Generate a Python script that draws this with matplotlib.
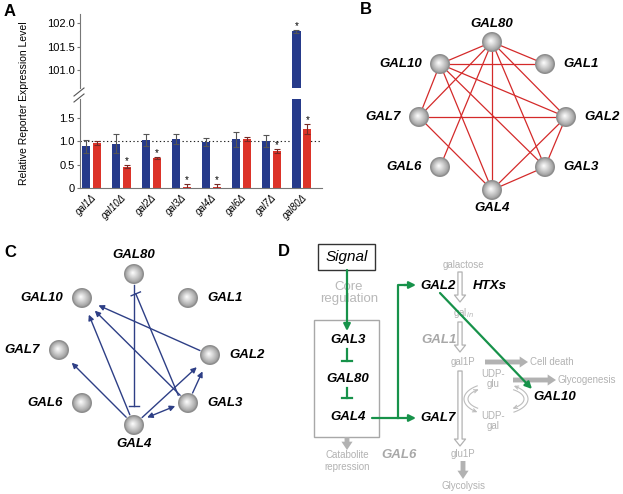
import numpy as np
import matplotlib
matplotlib.use('Agg')
import matplotlib.pyplot as plt
from matplotlib.patches import Circle, FancyArrowPatch, Rectangle

plt.rcParams['font.family'] = ['Liberation Sans', 'DejaVu Sans']

# ---- panel A data
strains = ['gal1', 'gal10', 'gal2', 'gal3', 'gal4', 'gal6', 'gal7', 'gal80']
wt_mean = [0.89, 0.95, 1.03, 1.05, 0.98, 1.04, 1.01, 101.83]
wt_err = [0.14, 0.20, 0.13, 0.11, 0.09, 0.16, 0.13, 0.03]
mut_mean = [0.96, 0.46, 0.64, 0.02, 0.02, 1.04, 0.79, 1.26]
mut_err = [0.04, 0.04, 0.02, 0.08, 0.08, 0.04, 0.04, 0.10]
wt_sig = [False, False, False, False, False, False, False, True]
mut_sig = [False, True, True, True, True, False, True, True]

# ---- panel B / C networks
genes = ['GAL80', 'GAL10', 'GAL1', 'GAL7', 'GAL2', 'GAL6', 'GAL3', 'GAL4']
corr_edges = [('GAL80', 'GAL10'), ('GAL80', 'GAL1'), ('GAL80', 'GAL7'), ('GAL80', 'GAL6'),
              ('GAL80', 'GAL4'), ('GAL80', 'GAL3'), ('GAL80', 'GAL2'),
              ('GAL10', 'GAL1'), ('GAL10', 'GAL7'), ('GAL10', 'GAL2'), ('GAL10', 'GAL3'),
              ('GAL10', 'GAL4'), ('GAL7', 'GAL2'), ('GAL7', 'GAL4'),
              ('GAL2', 'GAL3'), ('GAL2', 'GAL4'), ('GAL3', 'GAL4')]
act_edges = [('GAL2', 'GAL10'), ('GAL3', 'GAL10'), ('GAL4', 'GAL10'),
             ('GAL4', 'GAL7'), ('GAL4', 'GAL2'), ('GAL3', 'GAL2')]
inh_edges = [('GAL80', 'GAL4'), ('GAL3', 'GAL80')]
mutual_edges = [('GAL4', 'GAL3')]

# layout (pixel positions)
pos_b = {'GAL80': (492, 42), 'GAL10': (440, 64), 'GAL1': (545, 64), 'GAL7': (419, 117),
         'GAL2': (566, 117), 'GAL6': (440, 167), 'GAL3': (545, 167), 'GAL4': (492, 190)}
pos_c = {'GAL80': (134, 274), 'GAL10': (82, 298), 'GAL1': (188, 298), 'GAL7': (59, 350),
         'GAL2': (210, 355), 'GAL6': (82, 403), 'GAL3': (188, 403), 'GAL4': (134, 425)}
side = {'GAL80': 'top', 'GAL10': 'left', 'GAL1': 'right', 'GAL7': 'left',
        'GAL2': 'right', 'GAL6': 'left', 'GAL3': 'right', 'GAL4': 'bottom'}

BLUE = '#263a8a'
RED = '#dc3329'
NAVY = '#2e3f86'
GREEN = '#17924a'
GREY = '#b2b2b2'

fig = plt.figure(figsize=(6.23, 4.94), dpi=100)
W, H = 623., 494.


def px_axes(l, t, r, b):
    return fig.add_axes([l / W, 1 - b / H, (r - l) / W, (b - t) / H])


# ================= panel A =================
x = np.arange(len(strains))
off, bw = 0.18, 0.27
ax_lo = px_axes(80, 98.7, 322, 188.3)
ax_hi = px_axes(80, 14, 322, 88)
ax_lo.set_ylim(0, 1.9)
ax_hi.set_ylim(100.62, 102.2)
for ax in (ax_lo, ax_hi):
    lo, hi = ax.get_ylim()
    ax.bar(x - off, wt_mean, bw, color=BLUE, zorder=2)
    ax.bar(x + off, mut_mean, bw, color=RED, zorder=2)
    ax.errorbar(x - off, wt_mean, yerr=wt_err, fmt='none', ecolor='#555555',
                elinewidth=0.8, capsize=2, capthick=0.8, zorder=3)
    ax.errorbar(x + off, mut_mean, yerr=mut_err, fmt='none', ecolor='#7a2a25',
                elinewidth=0.8, capsize=2, capthick=0.8, zorder=3)
    for i in range(len(strains)):
        for sig, m, e, dx in ((wt_sig[i], wt_mean[i], wt_err[i], -off),
                              (mut_sig[i], mut_mean[i], mut_err[i], off)):
            ys = m + e + 0.02
            if sig and lo < ys < hi - 0.1:
                ax.text(x[i] + dx, ys, '*', ha='center', va='baseline', fontsize=7)
    ax.set_xlim(-0.38, 7.67)
    for s in ('top', 'right'):
        ax.spines[s].set_visible(False)
    ax.spines['left'].set_color('#777777')
    ax.spines['bottom'].set_color('#777777')
    ax.tick_params(axis='y', length=2, labelsize=8, color='#777777', pad=2)
    ax.set_facecolor('none')

ax_lo.set_yticks([0, 0.5, 1.0, 1.5])
ax_lo.set_yticklabels(['0', '0.5', '1.0', '1.5'])
ax_lo.axhline(1.0, color='#222222', lw=0.8, ls=(0, (1.2, 2.2)), zorder=1)
ax_lo.set_xticks(x)
ax_lo.set_xticklabels([s + '\u0394' for s in strains], rotation=45, ha='right',
                      va='top', rotation_mode='anchor', fontsize=7, style='italic')
ax_lo.tick_params(axis='x', length=0, pad=3)

ax_hi.set_yticks([101.0, 101.5, 102.0])
ax_hi.set_yticklabels(['101.0', '101.5', '102.0'])
ax_hi.spines['bottom'].set_visible(False)
ax_hi.set_xticks([])

fig.text(24 / W, 1 - 103 / H, 'Relative Reporter Expression Level', rotation=90,
         ha='center', va='center', fontsize=7.5)

# ================= overlay for B, C, D =================
ov = fig.add_axes([0, 0, 1, 1])
ov.set_xlim(0, W)
ov.set_ylim(H, 0)
ov.axis('off')

# axis break marks
for dy in (-3, 3):
    ov.plot([74, 84], [95 + dy + 4, 95 + dy - 4], color='#555555', lw=0.8)

# panel letters
for letter, (lx, ly) in {'A': (10, 12), 'B': (366, 10), 'C': (10, 252), 'D': (284, 251)}.items():
    ov.text(lx, ly, letter, fontsize=12, fontweight='bold', ha='center', va='center')


def sphere(cx, cy, r=10):
    ov.add_patch(Circle((cx, cy), r, color='#8e8e8e', lw=0, zorder=4))
    n = 14
    for k in range(1, n):
        f = k / (n - 1)
        g = 0.60 + 0.38 * f ** 0.9
        ov.add_patch(Circle((cx - 1.2 * f, cy - 1.2 * f), (r - 0.8) * (1 - 0.92 * f),
                            color=(g, g, g), lw=0, zorder=4))


def gene_labels(pos, gap=19):
    out = []
    for g in genes:
        cx, cy = pos[g]
        s = side[g]
        if s == 'top':
            out.append(ov.text(cx, cy - gap, g, ha='center', va='center'))
        elif s == 'bottom':
            out.append(ov.text(cx, cy + gap, g, ha='center', va='center'))
        elif s == 'left':
            out.append(ov.text(cx - gap, cy, g, ha='right', va='center'))
        else:
            out.append(ov.text(cx + gap, cy, g, ha='left', va='center'))
    return out


def label_style(texts):
    for t in texts:
        t.set_fontsize(9.5)
        t.set_fontweight('bold')
        t.set_fontstyle('italic')
        t.set_zorder(6)


# ---- panel B
for a, b in corr_edges:
    (x0, y0), (x1, y1) = pos_b[a], pos_b[b]
    ov.plot([x0, x1], [y0, y1], color='#d42a2a', lw=0.9, zorder=2)
for g in genes:
    sphere(*pos_b[g])
label_style(gene_labels(pos_b, gap=18))

# ---- panel C


def seg(a, b, sa, sb, shift=0.0):
    p0, p1 = np.array(pos_c[a], float), np.array(pos_c[b], float)
    u = (p1 - p0) / np.linalg.norm(p1 - p0)
    nrm = np.array([-u[1], u[0]])
    return p0 + u * sa + nrm * shift, p1 - u * sb + nrm * shift, u, nrm


for a, b in act_edges:
    s, e, u, nrm = seg(a, b, 11, 18)
    ov.add_patch(FancyArrowPatch(s, e, arrowstyle='-|>', mutation_scale=8,
                                 color=NAVY, lw=1.0, shrinkA=0, shrinkB=0, zorder=2))
for a, b in mutual_edges:
    s, e, u, nrm = seg(a, b, 15, 13, shift=-2)
    ov.add_patch(FancyArrowPatch(s, e, arrowstyle='<|-|>', mutation_scale=8,
                                 color=NAVY, lw=1.0, shrinkA=0, shrinkB=0, zorder=2))
for (a, b), shift in zip(inh_edges, [0.0, -6.0]):
    s, e, u, nrm = seg(a, b, 11, 19, shift=shift)
    ov.plot([s[0], e[0]], [s[1], e[1]], color=NAVY, lw=1.0, zorder=2)
    ov.plot([e[0] - nrm[0] * 5, e[0] + nrm[0] * 5], [e[1] - nrm[1] * 5, e[1] + nrm[1] * 5],
            color=NAVY, lw=1.0, zorder=2)
for g in genes:
    sphere(*pos_c[g])
label_style(gene_labels(pos_c, gap=19))

# ---- panel D


def garrow(p0, p1):
    ov.add_patch(FancyArrowPatch(p0, p1, arrowstyle='-|>', mutation_scale=10,
                                 color=GREEN, lw=1.6, shrinkA=0, shrinkB=0, zorder=7))


def gtee(p0, p1):
    ov.plot([p0[0], p1[0]], [p0[1], p1[1]], color=GREEN, lw=1.6, zorder=7)
    ov.plot([p1[0] - 5, p1[0] + 5], [p1[1], p1[1]], color=GREEN, lw=1.6, zorder=7)


def hollow(p0, p1):
    ov.add_patch(FancyArrowPatch(p0, p1, arrowstyle='simple,head_width=8,head_length=5,tail_width=3',
                                 mutation_scale=1, fc='white', ec=GREY, lw=0.9,
                                 shrinkA=0, shrinkB=0, zorder=3))


def thick(p0, p1):
    ov.add_patch(FancyArrowPatch(p0, p1, arrowstyle='simple,head_width=8,head_length=6,tail_width=3.5',
                                 mutation_scale=1, fc=GREY, ec='none',
                                 shrinkA=0, shrinkB=0, zorder=3))


def arc_arrow(cx, cy, rx, ry, t0, t1):
    t = np.radians(np.linspace(t0, t1, 40))
    xs, ys = cx + rx * np.cos(t), cy + ry * np.sin(t)
    ov.plot(xs[:-1], ys[:-1], color='#bdbdbd', lw=0.8, zorder=3)
    ov.add_patch(FancyArrowPatch((xs[-4], ys[-4]), (xs[-1], ys[-1]), arrowstyle='->',
                                 mutation_scale=6, color='#bdbdbd', lw=0.8,
                                 shrinkA=0, shrinkB=0, zorder=3))


ov.add_patch(Rectangle((318, 244), 57, 26, fill=False, ec='#333333', lw=1.0))
ov.text(346.5, 257, 'Signal', fontsize=11, style='italic', ha='center', va='center')
ov.text(349, 293, 'Core\nregulation', fontsize=9.5, color='#b8b8b8', ha='center',
        va='center', linespacing=1.05)
ov.add_patch(Rectangle((314, 320), 65, 117, fill=False, ec='#a8a8a8', lw=1.0))

d_black = [ov.text(348, 340, 'GAL3', ha='center', va='center'),
           ov.text(348, 379, 'GAL80', ha='center', va='center'),
           ov.text(348, 417, 'GAL4', ha='center', va='center'),
           ov.text(420, 286, 'GAL2', ha='left', va='center'),
           ov.text(473, 286, 'HTXs', ha='left', va='center'),
           ov.text(420, 418, 'GAL7', ha='left', va='center'),
           ov.text(533, 397, 'GAL10', ha='left', va='center')]
label_style(d_black)
d_grey = [ov.text(421, 340, 'GAL1', ha='left', va='center', color='#a8a8a8'),
          ov.text(381, 455, 'GAL6', ha='left', va='center', color='#a8a8a8')]
label_style(d_grey)

small = dict(fontsize=7, color=GREY, va='center', zorder=6)
ov.text(463, 265, 'galactose', ha='center', **small)
ov.text(463, 313, 'gal$_{in}$', ha='center', **small)
ov.text(463, 362, 'gal1P', ha='center', **small)
ov.text(463, 454, 'glu1P', ha='center', **small)
ov.text(463, 486, 'Glycolysis', ha='center', **small)
ov.text(530, 362, 'Cell death', ha='left', **small)
ov.text(557, 380, 'Glycogenesis', ha='left', **small)
ov.text(493, 379, 'UDP-\nglu', ha='center', linespacing=1.0, **small)
ov.text(493, 421, 'UDP-\ngal', ha='center', linespacing=1.0, **small)
ov.text(347, 461, 'Catabolite\nrepression', ha='center', linespacing=1.15, **small)

hollow((460, 272), (460, 302))
hollow((460, 322), (460, 352))
hollow((460, 371), (460, 446))
thick((485, 362), (528, 362))
thick((513, 380), (556, 380))
thick((347, 437), (347, 450))
thick((463, 461), (463, 479))

# UDP-glu / UDP-gal cycle
arc_arrow(495, 399, 31, 16, 235, 125)
arc_arrow(495, 399, 27, 12, 130, 232)
arc_arrow(495, 399, 33, 16, 55, -55)
arc_arrow(495, 399, 29, 12, -50, 52)

garrow((347, 270), (347, 331))
gtee((347, 349), (347, 361))
gtee((347, 388), (347, 398))
garrow((372, 418), (416, 418))
ov.plot([398, 398, 405], [418, 285, 285], color=GREEN, lw=1.6, zorder=7)
garrow((404, 285), (416, 285))
garrow((440, 293), (532, 389))

fig.savefig('out.png', dpi=100)
